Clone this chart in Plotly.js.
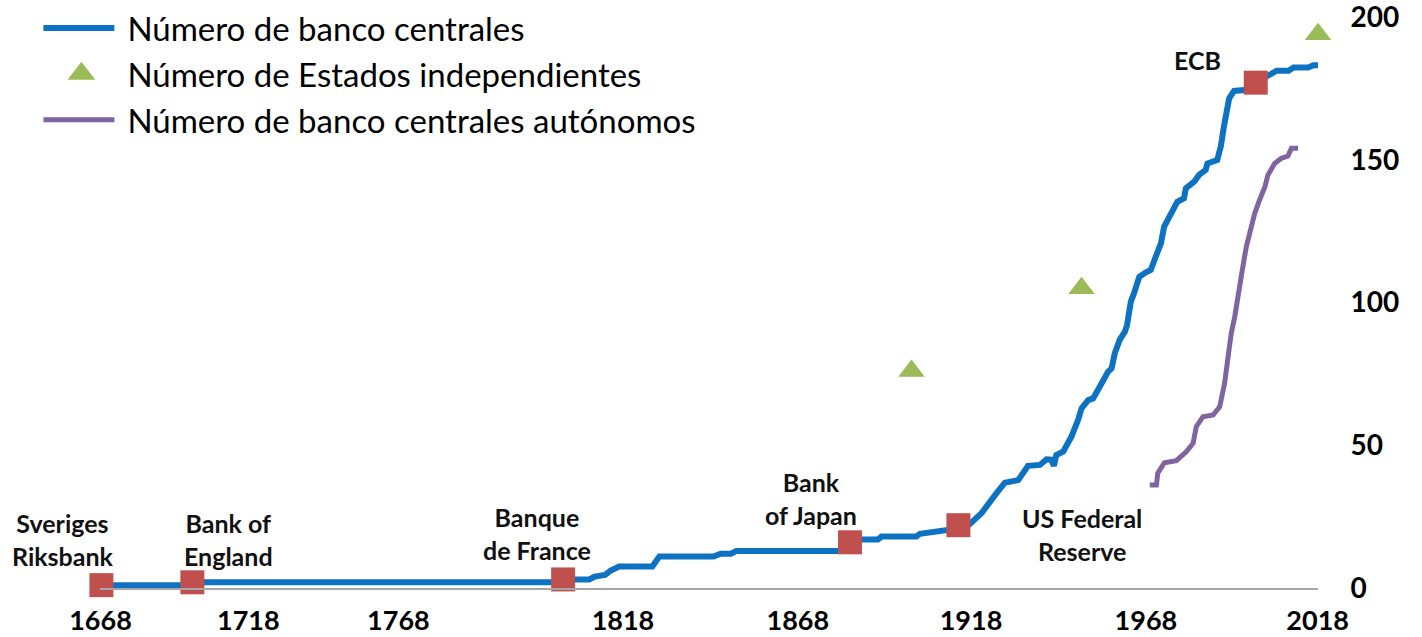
<!DOCTYPE html>
<html>
<head>
<meta charset="utf-8">
<script src="https://cdn.plot.ly/plotly-3.0.1.min.js"></script>
<style>
html,body{margin:0;padding:0;background:#fff;}
#chart{width:1422px;height:637px;}
</style>
</head>
<body>
<div id="chart"></div>
<script>
// Number of central banks (blue line)
const cbYears = [1668,1694,1694.5,1800,1800.5,1807.5,1809,1812,1813.5,1816,1825.5,1827.5,1843,1845,1848,1849.5,1880,1882,1884,1890,1891,1901,1902,1905,1907,1911,1913,1916,1919.6,1921.5,1923.9,1926.3,1928,1930.1,1932.9,1936.3,1938.2,1939.5,1940.3,1941,1943,1945.3,1947.2,1948.2,1950.1,1951.5,1953.4,1955.8,1956.8,1957.7,1959.1,1960.6,1961.2,1962.3,1963.2,1964.7,1966.5,1968,1969.4,1970.9,1971.8,1973.7,1975.6,1977.5,1978,1980.4,1981.8,1983.7,1984.2,1987,1988,1988.9,1990.4,1991.8,1994.7,1998,2001.7,2004,2007.4,2008.8,2013,2014.5,2016.4];
const cbCount = [1,1,2,2,3,3,4,4.6,6,7.5,7.5,11,11,12,12,13,13,16,17,17,18,18,19,19.5,20.3,20.5,22,22.1,26.2,29.7,33.2,36.9,37.5,37.8,42.8,43.1,45.1,45,42.8,46.6,47.8,53,58.8,62.9,65.8,66.4,70.5,75.8,76.9,82.2,86.9,89.8,92,100.3,103.2,109,110.5,111.4,116,120.7,126.5,131.2,135.3,136.5,140,142.3,144.7,146.4,148.7,149.9,154.6,161.6,171.5,174.1,174.4,177,179.7,181.2,181.2,182.3,182.3,183.1,183.1];

// Number of independent states (green triangles)
const stateYears = [1899.6, 1948.2, 2015.8];
const stateCount = [76, 105, 194];

// Number of autonomous central banks (purple line)
const acbYears = [1967.7,1969.6,1970,1971.9,1975.3,1978.2,1980.1,1981,1982.9,1985.8,1987.7,1989.1,1990.1,1991,1992,1992.9,1994,1995.3,1996.8,1997.7,1999.1,2000.6,2001.5,2003.4,2005.3,2007.2,2008.2,2010.1];
const acbCount = [36.1,36.1,40.2,43.9,44.6,47.8,50.7,56.5,60,60.6,63.5,71.7,81,89.2,95,100.9,110.2,119.5,127.7,131.2,135.9,140.5,144.7,148.7,150.5,151.3,154,154];

// Milestone banks (red squares + labels)
const bankNames = ["Sveriges<br>Riksbank","Bank of<br>England","Banque<br>de France","Bank<br>of Japan","US Federal<br>Reserve","ECB"];
const bankYears = [1668, 1694, 1800, 1882, 1913, 1998];
const bankCount = [1, 2, 3, 16, 22, 177];

// Tick labels
const xTickText = ["1668","1718","1768","1818","1868","1918","1968","2018"];
const xTickPos = [1667.75, 1710.0, 1752.9, 1817.1, 1867.1, 1916.6, 1966.6, 2015.7];
const yTickVals = [0, 50, 100, 150, 200];

const FONT = "Lato, 'Open Sans', sans-serif";
const BLUE = "#0E72C2", PURPLE = "#8064A2", GREEN = "#9BBB59", RED = "#C0504D";

const labelShift = [[-38,46],[36,43],[-26,46],[-39,44],[124,-9],[-58,23]];

const traces = [
  {x: cbYears, y: cbCount, type: "scatter", mode: "lines", name: "Número de banco centrales",
   line: {color: BLUE, width: 6}},
  {x: stateYears, y: stateCount, type: "scatter", mode: "markers", name: "Número de Estados independientes",
   marker: {symbol: "triangle-up", size: 23, color: GREEN}, cliponaxis: false},
  {x: acbYears, y: acbCount, type: "scatter", mode: "lines", name: "Número de banco centrales autónomos",
   line: {color: PURPLE, width: 5}},
  {x: bankYears, y: bankCount, type: "scatter", mode: "markers", showlegend: false,
   text: bankNames, marker: {symbol: "square", size: 24, color: RED}, cliponaxis: false}
];

const annotations = bankNames.map((t, i) => ({
  x: bankYears[i], y: bankCount[i], xref: "x", yref: "y", text: "<b>" + t + "</b>",
  showarrow: false, xshift: labelShift[i][0], yshift: labelShift[i][1],
  align: "center", font: {family: FONT, size: 25, color: "#111"}
}));

const layout = {
  width: 1422, height: 637,
  paper_bgcolor: "#fff", plot_bgcolor: "#fff",
  margin: {l: 100, r: 104, t: 17, b: 49, pad: 0, autoexpand: false},
  showlegend: true,
  legend: {xref: "container", yref: "container", x: 0.027, y: 1.005, xanchor: "left", yanchor: "top",
           font: {family: FONT, size: 33, color: "#000"}, bgcolor: "rgba(0,0,0,0)",
           itemwidth: 79, tracegroupgap: 0},
  xaxis: {range: [1667.6, 2015.8], tickvals: xTickPos, ticktext: xTickText,
          showgrid: false, zeroline: false, showline: true, linecolor: "#a6a6a6", linewidth: 2,
          ticks: "outside", ticklen: 8, tickcolor: "rgba(0,0,0,0)", ticklabeloverflow: "allow",
          tickfont: {family: FONT, size: 27, color: "#000", weight: "bold"}},
  yaxis: {range: [0, 200], side: "right", tickvals: yTickVals,
          showgrid: false, zeroline: false, showline: false,
          ticks: "outside", ticklen: 26, tickcolor: "rgba(0,0,0,0)", ticklabeloverflow: "allow",
          tickfont: {family: FONT, size: 28, color: "#000", weight: "bold"}},
  annotations: annotations
};

Plotly.newPlot("chart", traces, layout, {displayModeBar: false, staticPlot: true}).then(() => {
  document.querySelectorAll(".legend .legendlines path").forEach(p => p.setAttribute("d", "M5,0h71"));
  document.querySelectorAll(".legend .legendpoints path.scatterpts").forEach(p => p.setAttribute("transform", "translate(43,0) scale(1.5)"));
});
</script>
</body>
</html>
